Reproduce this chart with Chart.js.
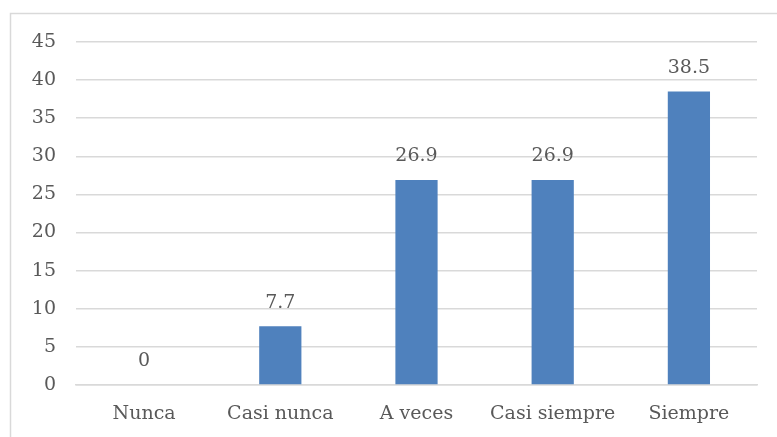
<!DOCTYPE html>
<html><head><meta charset="utf-8">
<script src="https://cdn.jsdelivr.net/npm/chart.js@4.4.0/dist/chart.umd.min.js"></script>
<style>html,body{margin:0;padding:0;background:#fff;overflow:hidden}#wrap{position:absolute;left:0;top:0;width:777px;height:437px}</style>
</head><body><div id="wrap"><canvas id="c" width="777" height="437"></canvas></div>
<script>
const categories = ["Nunca", "Casi nunca", "A veces", "Casi siempre", "Siempre"];
const values = [0, 7.7, 26.9, 26.9, 38.5];
const yMin = 0, yMax = 45, yStep = 5;

const FONT = "'DejaVu Serif', serif";
const TEXT = "#595959";

const frame = {
  id: 'frame',
  beforeDraw(chart) {
    const ctx = chart.ctx;
    ctx.save();
    ctx.strokeStyle = '#D9D9D9';
    ctx.lineWidth = 1.5;
    ctx.strokeRect(10.5, 13.5, 900, 600);
    ctx.restore();
  }
};
const labels = {
  id: 'vlabels',
  afterDatasetsDraw(chart) {
    const ctx = chart.ctx;
    const meta = chart.getDatasetMeta(0);
    ctx.save();
    ctx.font = "19px " + FONT;
    ctx.fillStyle = TEXT;
    ctx.textAlign = 'center';
    ctx.textBaseline = 'bottom';
    meta.data.forEach((bar, i) => {
      ctx.fillText(String(values[i]), bar.x, bar.y - 14);
    });
    ctx.restore();
  }
};

new Chart(document.getElementById('c'), {
  type: 'bar',
  data: {
    labels: categories,
    datasets: [{
      data: values,
      backgroundColor: '#4F81BD',
      borderWidth: 0,
      categoryPercentage: 1,
      barPercentage: 0.31
    }]
  },
  options: {
    responsive: false,
    animation: false,
    devicePixelRatio: 1,
    layout: { padding: { left: 0, top: 42, right: 20, bottom: 0 } },
    plugins: { legend: { display: false }, tooltip: { enabled: false } },
    scales: {
      x: {
        grid: { display: false, drawTicks: false },
        border: { display: true, color: '#D9D9D9', width: 1.5 },
        ticks: { color: TEXT, font: { family: FONT, size: 19 }, padding: 18, maxRotation: 0 },
        afterFit(s) { s.height = 52; }
      },
      y: {
        min: yMin, max: yMax,
        grid: { color: '#D9D9D9', lineWidth: 1.5, drawTicks: false },
        border: { display: false },
        ticks: { stepSize: yStep, color: TEXT, font: { family: FONT, size: 19 }, padding: 20 },
        afterFit(s) { s.width = 76; }
      }
    }
  },
  plugins: [frame, labels]
});
</script></body></html>
